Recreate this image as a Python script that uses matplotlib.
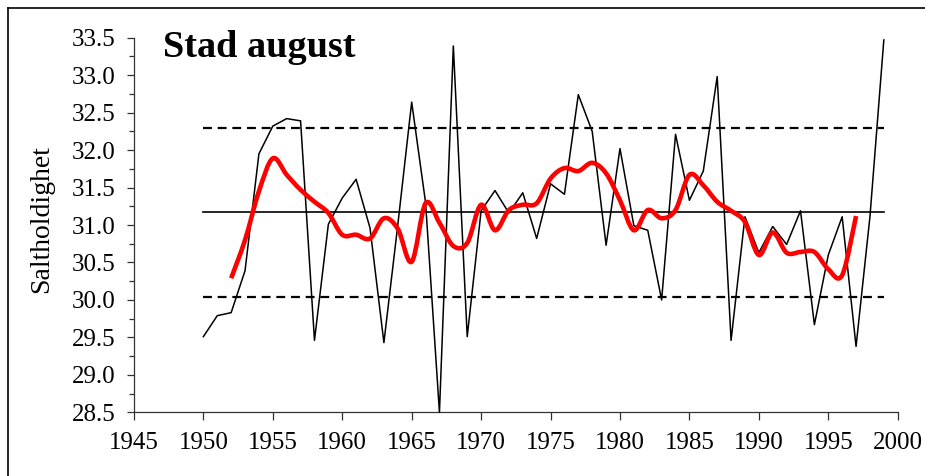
import numpy as np
import matplotlib
matplotlib.use("Agg")
import matplotlib.pyplot as plt
from matplotlib.path import Path
from matplotlib.patches import PathPatch
from matplotlib.lines import Line2D

# ---- data ----
years = list(range(1950, 2000))
salinity = [29.51, 29.79, 29.83, 30.39, 31.95, 32.32, 32.42, 32.39, 29.46, 31.01,
            31.36, 31.61, 30.96, 29.43, 31.00, 32.64, 31.30, 28.50, 33.39, 29.51,
            31.19, 31.46, 31.16, 31.43, 30.82, 31.55, 31.41, 32.74, 32.25, 30.73,
            32.02, 30.99, 30.93, 30.00, 32.21, 31.33, 31.72, 32.98, 29.46, 31.11,
            30.63, 30.98, 30.74, 31.19, 29.67, 30.60, 31.11, 29.38, 31.11, 33.47]

smooth_years = list(range(1952, 1998))
smooth = [30.29, 30.80, 31.45, 31.89, 31.67, 31.47, 31.31, 31.16, 30.87, 30.87,
          30.82, 31.09, 30.95, 30.51, 31.29, 31.03, 30.72, 30.76, 31.27, 30.93,
          31.20, 31.27, 31.29, 31.62, 31.76, 31.72, 31.83, 31.69, 31.33, 30.93,
          31.20, 31.09, 31.20, 31.67, 31.53, 31.31, 31.19, 31.04, 30.60, 30.90,
          30.63, 30.64, 30.64, 30.41, 30.33, 31.12]

mean_level = 31.17
upper_level = 32.30
lower_level = 30.035

title = "Stad august"
ylabel = "Saltholdighet"
xticks = list(range(1945, 2001, 5))
yticks = [28.5, 29.0, 29.5, 30.0, 30.5, 31.0, 31.5, 32.0, 32.5, 33.0, 33.5]

plt.rcParams['font.family'] = ['Liberation Serif', 'DejaVu Serif']

fig = plt.figure(figsize=(9.25, 4.76), dpi=100)
ax = fig.add_axes([0.1448, 0.1338, 0.9705 - 0.1448, 0.9208 - 0.1338])

ax.set_xlim(1945, 2000)
ax.set_ylim(28.5, 33.5)

# reference lines
span = [years[0], years[-1]]
ax.plot(span, [mean_level, mean_level], color='black', lw=1.2, zorder=2)
ax.plot(span, [upper_level, upper_level], color='black', lw=1.6,
        linestyle=(0, (4, 2.6)), zorder=2)
ax.plot(span, [lower_level, lower_level], color='black', lw=1.6,
        linestyle=(0, (4, 2.6)), zorder=2)

# annual values
ax.plot(years, salinity, color='black', lw=1.1, zorder=3, clip_on=False)

# smoothed curve (Catmull-Rom style bezier through the points)
xs = np.array(smooth_years, dtype=float)
ys = np.array(smooth, dtype=float)
n = len(xs)
verts = [(xs[0], ys[0])]
codes = [Path.MOVETO]
t = 1 / 6.0
for i in range(n - 1):
    p0 = (xs[i - 1], ys[i - 1]) if i > 0 else (xs[i], ys[i])
    p1 = (xs[i], ys[i])
    p2 = (xs[i + 1], ys[i + 1])
    p3 = (xs[i + 2], ys[i + 2]) if i + 2 < n else (xs[i + 1], ys[i + 1])
    c1 = (p1[0] + (p2[0] - p0[0]) * t, p1[1] + (p2[1] - p0[1]) * t)
    c2 = (p2[0] - (p3[0] - p1[0]) * t, p2[1] - (p3[1] - p1[1]) * t)
    verts += [c1, c2, p2]
    codes += [Path.CURVE4] * 3
patch = PathPatch(Path(verts, codes), facecolor='none', edgecolor='#ff0000',
                  lw=3.3, zorder=4, capstyle='butt', joinstyle='round')
ax.add_patch(patch)

# axes styling
for s in ['top', 'right']:
    ax.spines[s].set_visible(False)
for s in ['left', 'bottom']:
    ax.spines[s].set_linewidth(0.9)
    ax.spines[s].set_color('#333333')

ax.set_xticks(xticks)
ax.set_xticklabels([str(v) for v in xticks])
ax.set_yticks(yticks)
ax.set_yticklabels([f"{v:.1f}" for v in yticks])
ax.set_yticks(np.arange(28.75, 33.5, 0.5), minor=True)
ax.tick_params(axis='both', which='major', direction='out', labelsize=18,
               color='#333333', width=0.9)
ax.tick_params(axis='y', which='major', length=5, pad=8)
ax.tick_params(axis='y', which='minor', length=3.6, width=0.9, color='#333333')
ax.tick_params(axis='x', which='major', length=5.8, pad=8.5)

ax.set_ylabel(ylabel, fontsize=20)
ax.yaxis.set_label_coords(-0.105, 0.515)
ax.text(0.038, 33.24, title, transform=ax.get_yaxis_transform(), fontsize=27.5,
        fontweight='bold', ha='left', va='baseline')

# figure frame (left and top edges visible)
fig.add_artist(Line2D([7.5 / 925, 7.5 / 925], [0, 1 - 7.5 / 476],
                      transform=fig.transFigure, color='black', lw=1.2))
fig.add_artist(Line2D([7.5 / 925, 1], [1 - 7.5 / 476, 1 - 7.5 / 476],
                      transform=fig.transFigure, color='black', lw=1.2))

fig.savefig('out.png', dpi=100)
